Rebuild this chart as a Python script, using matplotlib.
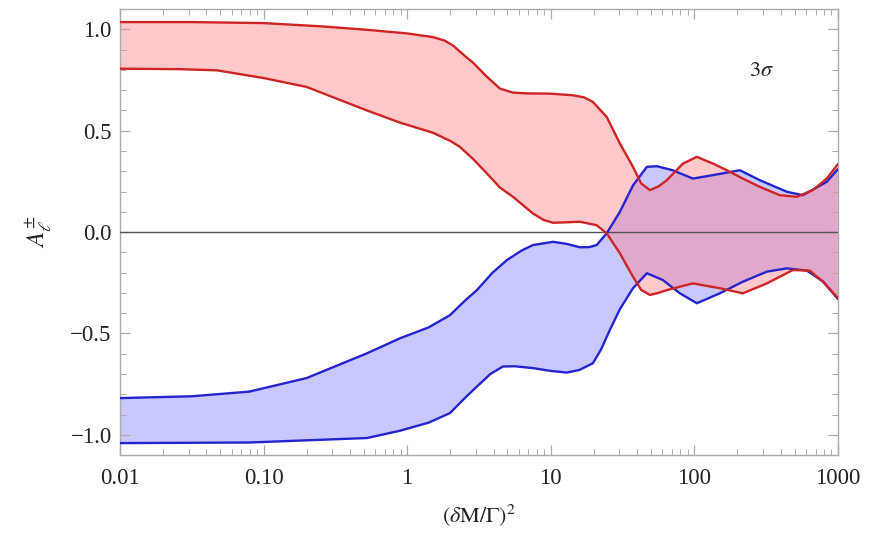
import numpy as np
import matplotlib
matplotlib.use("Agg")
import matplotlib.pyplot as plt
from matplotlib.ticker import FixedLocator, MultipleLocator, NullFormatter

plt.rcParams["mathtext.fontset"] = "stix"
plt.rcParams["font.family"] = ["Liberation Serif", "DejaVu Serif"]

# log10 of (dM/Gamma)^2 and asymmetry bounds for each band edge
red_upper_lgx = [-2, -1.5, -1.0, -0.6, -0.28, 0.0, 0.18, 0.26, 0.32, 0.40, 0.46, 0.55, 0.646,
                 0.737, 0.85, 0.994, 1.155, 1.23, 1.294, 1.39, 1.482, 1.573, 1.63, 1.691,
                 1.75, 1.809, 1.921, 2.018, 2.13, 2.227, 2.338, 2.457, 2.596, 2.714, 2.826,
                 2.923, 3.0]
red_upper = [1.036, 1.036, 1.031, 1.015, 0.998, 0.98, 0.962, 0.945, 0.92, 0.87, 0.835, 0.77,
             0.708, 0.688, 0.684, 0.683, 0.675, 0.665, 0.642, 0.568, 0.437, 0.322, 0.24,
             0.207, 0.225, 0.256, 0.338, 0.371, 0.338, 0.305, 0.264, 0.223, 0.182, 0.174,
             0.207, 0.264, 0.335]

red_lower_lgx = [-2, -1.6, -1.325, -1.0, -0.7, -0.28, -0.05, 0.18, 0.30, 0.368, 0.46, 0.556,
                 0.646, 0.737, 0.876, 0.95, 1.016, 1.1, 1.203, 1.32, 1.39, 1.482, 1.573, 1.63,
                 1.691, 1.75, 1.81, 1.99, 2.178, 2.338, 2.506, 2.687, 2.805, 2.896, 3.0]
red_lower = [0.806, 0.804, 0.798, 0.76, 0.716, 0.60, 0.54, 0.49, 0.45, 0.42, 0.36, 0.289,
             0.22, 0.174, 0.092, 0.06, 0.046, 0.048, 0.051, 0.034, -0.006, -0.105, -0.22,
             -0.285, -0.31, -0.30, -0.286, -0.253, -0.277, -0.302, -0.253, -0.187, -0.19,
             -0.245, -0.325]

blue_upper_lgx = [-2, -1.5, -1.1, -0.7, -0.28, -0.05, 0.15, 0.298, 0.40, 0.486, 0.595, 0.695,
                  0.8, 0.876, 1.016, 1.11, 1.203, 1.27, 1.32, 1.39, 1.482, 1.573, 1.67, 1.74,
                  1.85, 1.99, 2.13, 2.318, 2.457, 2.645, 2.756, 2.923, 3.0]
blue_upper = [-0.819, -0.81, -0.787, -0.72, -0.598, -0.524, -0.47, -0.41, -0.34, -0.286, -0.2,
              -0.138, -0.09, -0.064, -0.048, -0.058, -0.075, -0.074, -0.064, -0.006, 0.10,
              0.23, 0.322, 0.325, 0.305, 0.264, 0.281, 0.305, 0.256, 0.199, 0.182, 0.248,
              0.31]

blue_lower_lgx = [-2, -1.1, -0.28, -0.05, 0.15, 0.298, 0.40, 0.486, 0.58, 0.667, 0.75, 0.876,
                  1.0, 1.113, 1.2, 1.294, 1.35, 1.412, 1.482, 1.573, 1.67, 1.78, 1.9, 2.018,
                  2.178, 2.338, 2.506, 2.645, 2.784, 2.9, 3.0]
blue_lower = [-1.041, -1.038, -1.016, -0.98, -0.94, -0.893, -0.82, -0.762, -0.70, -0.663,
              -0.662, -0.671, -0.685, -0.693, -0.68, -0.647, -0.58, -0.483, -0.38, -0.277,
              -0.203, -0.236, -0.302, -0.351, -0.302, -0.245, -0.195, -0.179, -0.19, -0.245,
              -0.33]

x_ticks = [0.01, 0.1, 1, 10, 100, 1000]
x_tick_labels = ["0.01", "0.10", "1", "10", "100", "1000"]
y_ticks = [-1.0, -0.5, 0.0, 0.5, 1.0]
y_tick_labels = ["\u22121.0", "\u22120.5", "0.0", "0.5", "1.0"]


def xs(lg):
    return 10.0 ** np.asarray(lg, dtype=float)


fig = plt.figure(figsize=(8.70, 5.36), dpi=100)
ax = fig.add_axes([0.138, 0.151, 0.825, 0.832])

red_line = "#cf2424"
blue_line = "#2424cf"

# blue band first, red band on top so the overlap turns purple
ax.fill(np.concatenate([xs(blue_upper_lgx), xs(blue_lower_lgx)[::-1]]),
        np.concatenate([blue_upper, blue_lower[::-1]]),
        color=(0.55, 0.55, 1.0), alpha=0.48, lw=0, zorder=1)
ax.fill(np.concatenate([xs(red_upper_lgx), xs(red_lower_lgx)[::-1]]),
        np.concatenate([red_upper, red_lower[::-1]]),
        color=(1.0, 0.52, 0.55), alpha=0.45, lw=0, zorder=2)

ax.axhline(0.0, color="#555555", lw=1.0, zorder=3)

for lgx, vals, c in [(blue_upper_lgx, blue_upper, blue_line),
                     (blue_lower_lgx, blue_lower, blue_line),
                     (red_upper_lgx, red_upper, red_line),
                     (red_lower_lgx, red_lower, red_line)]:
    ax.plot(xs(lgx), vals, color=c, lw=1.7, zorder=4,
            solid_joinstyle="round", solid_capstyle="round")

ax.set_xscale("log")
ax.set_xlim(0.01, 1000)
ax.set_ylim(-1.1, 1.1)

ax.xaxis.set_major_locator(FixedLocator(x_ticks))
ax.set_xticklabels(x_tick_labels)
ax.xaxis.set_minor_locator(FixedLocator(
    [m * 10.0 ** e for e in range(-2, 3) for m in range(2, 10)]))
ax.xaxis.set_minor_formatter(NullFormatter())
ax.set_yticks(y_ticks)
ax.set_yticklabels(y_tick_labels)
ax.yaxis.set_minor_locator(MultipleLocator(0.1))

for s in ax.spines.values():
    s.set_color("#aaaaaa")
    s.set_linewidth(1.0)
ax.tick_params(which="both", direction="in", top=True, right=True,
               color="#aaaaaa", labelsize=16.5, labelcolor="#222222")
ax.tick_params(axis="x", which="major", pad=9)
ax.tick_params(axis="y", which="major", pad=6)
ax.tick_params(which="major", length=7, width=0.9)
ax.tick_params(which="minor", length=4, width=0.7)

ax.set_xlabel(r"$(\delta\mathrm{M}/\Gamma)^2$", fontsize=16, color="#222222", labelpad=10)
ax.set_ylabel(r"$A_{\ell}^{\pm}$", fontsize=18, color="#222222", labelpad=12)
ax.text(0.894, 0.859, r"$3\sigma$", transform=ax.transAxes, fontsize=16,
        color="#222222", ha="center", va="center")

fig.savefig("out.png", dpi=100)
